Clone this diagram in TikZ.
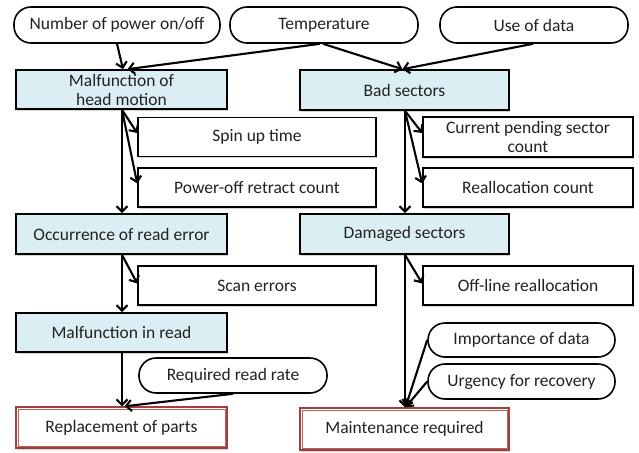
\documentclass[tikz,border=0pt]{standalone}
\usepackage{fontspec}
\setmainfont{Carlito}
\usetikzlibrary{arrows.meta,shadows}
\definecolor{boxblue}{HTML}{DBEEF4}
\definecolor{outred}{HTML}{A0403C}
\definecolor{innred}{HTML}{C0605C}
\definecolor{txt}{HTML}{222222}
\begin{document}
\begin{tikzpicture}[x=1pt,y=-1pt,
  every node/.style={font=\fontsize{17.5}{19}\selectfont, text=txt, align=center, inner sep=1pt},
  factor/.style={draw=black, line width=1.6pt, rounded corners=17pt, fill=white,
    minimum width=188pt, minimum height=36pt},
  statebox/.style={draw=black, line width=1.6pt, fill=boxblue,
    minimum width=211pt, minimum height=40pt,
    drop shadow={shadow xshift=1.2pt, shadow yshift=-1.5pt, fill=gray, opacity=0.35}},
  itembox/.style={draw=black, line width=1.6pt, fill=white,
    minimum width=238pt, minimum height=39pt,
    drop shadow={shadow xshift=1.2pt, shadow yshift=-1.5pt, fill=gray, opacity=0.35}},
  resultbox/.style={draw=outred, line width=1.4pt, fill=white,
    minimum width=211pt, minimum height=41pt,
    drop shadow={shadow xshift=1.2pt, shadow yshift=-1.5pt, fill=gray, opacity=0.35}},
  innerline/.style={draw=innred, line width=0.8pt},
  arr/.style={draw=black, line width=2.1pt, -{Straight Barb[length=5.5pt,width=11pt]}}
]
\useasboundingbox (0,0) rectangle (639,452);

% influencing factors
\node[factor, minimum width=206pt] (pwr)  at (117,25) {Number of power on/off};
\node[factor] (temp) at (324,25) {Temperature};
\node[factor] (use)  at (534,25) {Use of data};

% left chain
\node[statebox, minimum height=39pt] (hm)  at (121.5,89.5) {Malfunction of\\head motion};
\node[itembox] (spin) at (257,137) {Spin up time};
\node[itembox] (poff) at (257,187.5) {Power-off retract count};
\node[statebox] (occ)  at (121.5,234) {Occurrence of read error};
\node[itembox] (scan) at (257,285.5) {Scan errors};
\node[statebox, minimum height=39pt] (mread) at (121.5,332.5) {Malfunction in read};
\node[factor, minimum height=35pt] (req) at (233,375.5) {Required read rate};
\node[resultbox] (repl) at (121.5,427.5) {Replacement of parts};

% right chain
\node[statebox, minimum width=209pt] (bad) at (404.5,90) {Bad sectors};
\node[itembox, minimum width=210pt, minimum height=40pt] (cur) at (528,137) {Current pending sector\\count};
\node[itembox, minimum width=210pt] (real) at (528,187.5) {Reallocation count};
\node[statebox, minimum width=209pt] (dmg) at (404.5,234) {Damaged sectors};
\node[itembox, minimum width=210pt] (offl) at (528,285.5) {Off-line reallocation};
\node[factor, minimum width=187pt, minimum height=34pt] (imp) at (521.5,340) {Importance of data};
\node[factor, minimum width=187pt, minimum height=35pt] (urg) at (521.5,381.5) {Urgency for recovery};
\node[resultbox, minimum width=209pt, minimum height=42pt] (maint) at (404.5,429) {Maintenance required};

% inner frame of the double-lined result boxes
\foreach \n in {repl,maint}
  \draw[innerline] ([shift={(2.6pt,-2.6pt)}]\n.north west) rectangle ([shift={(-2.6pt,2.6pt)}]\n.south east);

% factors into the first states
\draw[arr] (pwr.south) -- ([xshift=1.5pt]hm.north);
\draw[arr] ([xshift=-4pt]temp.south) -- ([xshift=6pt]hm.north);
\draw[arr] ([xshift=-1pt]temp.south) -- ([xshift=-2pt]bad.north);
\draw[arr] ([xshift=-1pt]use.south) -- ([xshift=-2pt]bad.north);

% left column
\draw[arr] ([xshift=0.5pt]hm.south) -- ([xshift=0.5pt]occ.north);
\draw[arr] ([xshift=0.5pt]hm.south) -- ([yshift=4pt]spin.west);
\draw[arr] ([xshift=0.5pt]hm.south) -- ([yshift=4pt]poff.west);
\draw[arr] ([xshift=0.5pt]occ.south) -- ([xshift=0.5pt]mread.north);
\draw[arr] ([xshift=0.5pt]occ.south) -- ([yshift=2pt]scan.west);
\draw[arr] ([xshift=0.5pt]mread.south) -- ([xshift=0.5pt]repl.north);
\draw[arr] (req.south) -- ([xshift=3pt]repl.north);

% right column
\draw[arr] ([xshift=0.5pt]bad.south) -- ([xshift=0.5pt]dmg.north);
\draw[arr] ([xshift=0.5pt]bad.south) -- ([yshift=4pt]cur.west);
\draw[arr] ([xshift=0.5pt]bad.south) -- ([yshift=4pt]real.west);
\draw[arr] ([xshift=0.5pt]dmg.south) -- ([yshift=2pt]offl.west);
\draw[arr] ([xshift=0.5pt]dmg.south) -- ([xshift=0.5pt]maint.north);
\draw[arr] (imp.west) -- ([xshift=1pt]maint.north);
\draw[arr] (urg.west) -- ([xshift=1pt]maint.north);
\end{tikzpicture}
\end{document}
